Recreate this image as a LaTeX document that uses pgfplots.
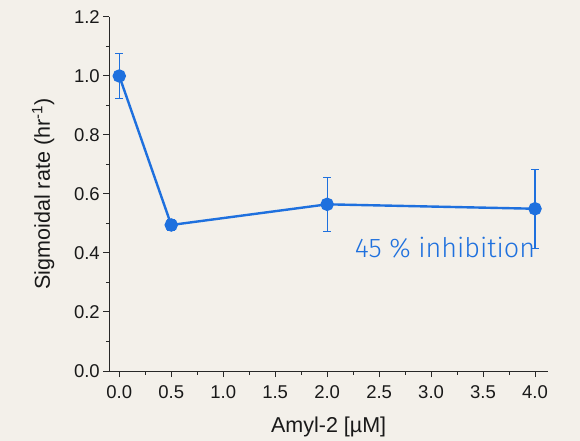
\documentclass[border=0pt]{standalone}
\usepackage{pgfplots}
\pgfplotsset{compat=1.18}
\usepackage{fontspec}
\setmainfont{Liberation Sans}
\newfontfamily\dinfont{Fira Sans Light}
\definecolor{bg}{RGB}{243,240,234}
\definecolor{blu}{RGB}{30,112,222}
\definecolor{axc}{RGB}{40,40,40}
\begin{document}
\begin{tikzpicture}
\fill[bg] (0,0) rectangle (580bp,441bp);
\useasboundingbox (0,0) rectangle (580bp,441bp);
\begin{axis}[
  scale only axis, width=438.7bp, height=354bp,
  anchor=south west, at={(109.3bp,70bp)},
  xmin=-0.096, xmax=4.125, ymin=0, ymax=1.2,
  axis x line*=bottom, axis y line*=left,
  axis line style={axc, line width=1bp, -},
  xtick={0,0.5,...,4}, ytick={0,0.2,...,1.2},
  minor x tick num=1, minor y tick num=1,
  tick align=outside,
  major tick length=6bp, minor tick length=3.5bp,
  tick style={axc, line width=1bp},
  xticklabel style={yshift=-5.5bp, /pgf/number format/.cd, fixed, fixed zerofill, precision=1},
  yticklabel style={/pgf/number format/.cd, fixed, fixed zerofill, precision=1},
  /pgf/number format/assume math mode=true,
  ticklabel style={font=\fontsize{18.5bp}{20bp}\selectfont, text=black!90},
  xlabel={Amyl-2 [µM]}, ylabel={Sigmoidal rate (hr\textsuperscript{-1})},
  label style={font=\fontsize{21.5bp}{23bp}\selectfont, text=black!90},
  xlabel style={yshift=-11bp},
  ylabel style={yshift=13bp},
]
\addplot[blu, line width=2.4bp, mark=*, mark size=5.5bp,
  error bars/.cd, y dir=both, y explicit,
  error bar style={draw=blu, line width=1.1bp},
  error mark options={rotate=90, draw=blu, mark size=3.8bp, line width=1.1bp}]
  coordinates {
  (0,1.0) +- (0,0.076)
  (0.5,0.495) +- (0,0.02)
  (2,0.565) +- (0,0.092)
  (4,0.55) +- (0,0.134)
  };
\node[anchor=base west, inner sep=0, text=blu, font=\dinfont\fontsize{27bp}{30bp}\selectfont] at (axis cs:2.266,0.386) {45 \% inhibition};
\end{axis}
\end{tikzpicture}
\end{document}
